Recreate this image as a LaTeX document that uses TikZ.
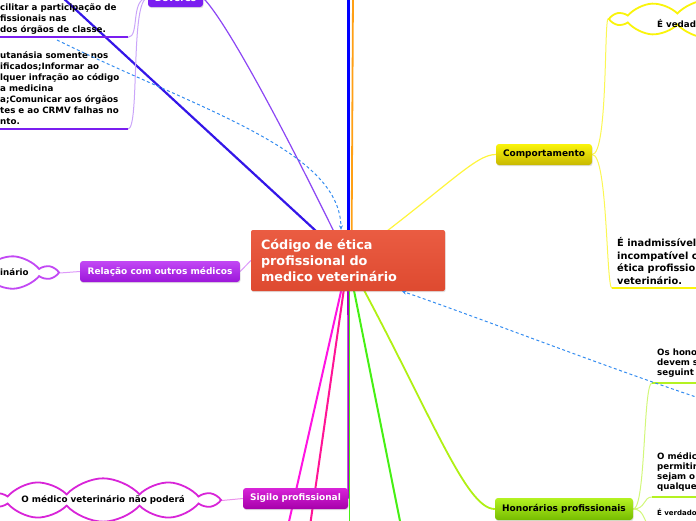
\documentclass[tikz,border=0pt]{standalone}
\usepackage{fontspec}
\setmainfont{DejaVu Sans}
\usepackage{xcolor}
\usetikzlibrary{arrows.meta, positioning, calc, backgrounds, shapes.symbols, shadows}

\definecolor{codered}{RGB}{234,92,66}
\definecolor{codereddark}{RGB}{222,74,48}
\definecolor{relviolet}{RGB}{194,72,244}
\definecolor{relvioletdark}{RGB}{156,22,218}
\definecolor{sigmagenta}{RGB}{216,36,216}
\definecolor{sigmagentadark}{RGB}{166,0,170}
\definecolor{honlime}{RGB}{180,242,34}
\definecolor{honlimedark}{RGB}{118,188,0}
\definecolor{compyellow}{RGB}{250,244,10}
\definecolor{compyellowdark}{RGB}{200,184,0}
\definecolor{devviolet}{RGB}{122,30,240}
\definecolor{relblue}{RGB}{52,140,240}
\definecolor{linkindigo}{RGB}{52,22,232}
\definecolor{linkviolet}{RGB}{140,70,244}
\definecolor{linkyellow}{RGB}{255,245,60}
\definecolor{linklime}{RGB}{176,240,20}
\definecolor{linkmagenta}{RGB}{255,20,225}
\definecolor{linkpink}{RGB}{255,20,150}
\definecolor{linkgreen}{RGB}{70,240,20}
\definecolor{linkpurple}{RGB}{168,0,200}
\definecolor{linkorange}{RGB}{255,160,20}

\begin{document}
\begin{tikzpicture}[
        x=1pt, y=-1pt,
        >=Stealth,
        topic/.style={rectangle, rounded corners=3pt, minimum height=21pt,
            inner xsep=6pt, inner ysep=0pt, text=white,
            font=\bfseries\fontsize{9}{11}\selectfont,
            drop shadow={shadow xshift=0.6pt, shadow yshift=-1.2pt, opacity=0.25}},
        centre/.style={rectangle, rounded corners=2pt, top color=codered,
            bottom color=codereddark, text=white, text width=174pt,
            align=left, minimum width=194pt, minimum height=61pt,
            inner xsep=10pt, inner ysep=0pt,
            font=\bfseries\fontsize{12.8}{16}\selectfont,
            drop shadow={shadow xshift=0.6pt, shadow yshift=-1.2pt, opacity=0.25}},
        cloudbox/.style={cloud, cloud puffs=10, cloud puff arc=95,
            cloud ignores aspect, draw=#1, line width=1.8pt, fill=white,
            inner sep=0pt, font=\bfseries\fontsize{8.8}{10}\selectfont},
        note/.style={inner sep=0pt, align=left, anchor=north west,
            font=\bfseries\fontsize{8.7}{11}\selectfont},
        underline/.style={draw=#1, line width=2pt},
        link/.style={draw=#1, line width=1pt},
        rel/.style={draw=relblue, line width=1pt, dash pattern=on 3pt off 2.5pt,
            -{Stealth[length=4.5pt, width=4pt]}},
    ]
    \useasboundingbox (0,0) rectangle (696,520);

    % 1. Central topic
    \node[centre] (code) at (348,260.5)
        {Código de ética\\profissional do\\medico veterinário};

    % 2. Main topics
    \node[topic, top color=relviolet, bottom color=relvioletdark,
          minimum width=160pt] (relacao) at (160,271.5)
        {Relação com outros médicos};
    \node[topic, top color=sigmagenta, bottom color=sigmagentadark,
          minimum width=105pt] (sigilo) at (295.5,498.5)
        {Sigilo profissional};
    \node[topic, text=black, top color=honlime, bottom color=honlimedark,
          minimum width=138pt, minimum height=22pt] (honor) at (564,509)
        {Honorários profissionais};
    \node[topic, text=black, top color=compyellow, bottom color=compyellowdark,
          minimum width=96pt] (comport) at (544,154.5)
        {Comportamento};
    \node[topic, fill=devviolet, minimum width=55pt, minimum height=18pt]
        (deveres) at (175.5,-2) {Deveres};

    % 3. Clouds
    \node[cloudbox=relviolet, minimum width=200pt, minimum height=40pt,
          left=20pt of relacao, yshift=-1.5pt] (rel_cloud) {};
    \node[note, anchor=west] (rel_cloud_txt) at (0,272.5) {inário};
    \node[cloudbox=sigmagenta, minimum width=226pt, minimum height=42pt,
          left=21pt of sigilo, yshift=-2pt] (sig_cloud)
        {O médico veterinário não poderá};
    \node[cloudbox=compyellow, minimum width=190pt, minimum height=38pt]
        (comp_cloud) at (708,19) {};
    \node[note, anchor=west] (comp_cloud_txt) at (657,24) {É vedad};

    % 4. Notes of Deveres
    \node[note] (dev_note1) at (0,3.2)
        {cilitar a participação de\\fissionais nas\\dos órgãos de classe.};
    \node[note] (dev_note2) at (0,50.9)
        {utanásia somente nos\\ificados;Informar ao\\lquer infração ao código\\%
         a medicina\\a;Comunicar aos órgãos\\tes e ao CRMV falhas no\\nto.};
    \coordinate (dev_u1) at (128,37.3);
    \coordinate (dev_u2) at (128,129);
    \draw[underline=devviolet] (dev_u1) -- ++(-135,0);
    \draw[underline=devviolet] (dev_u2) -- ++(-135,0);

    % 5. Notes of Comportamento
    \node[note, font=\bfseries\fontsize{9.8}{12.5}\selectfont] (comp_note) at (617,237.4)
        {É inadmissível\\incompatível c\\ética profissio\\veterinário.};
    \coordinate (comp_u) at (612,288.3);
    \draw[underline=compyellow] (comp_u) -- ++(90,0);

    % 6. Notes of Honorários
    \node[note, font=\bfseries\fontsize{8.7}{10}\selectfont] (hon_note1) at (657,349)
        {Os hono\\devem s\\seguint};
    \node[note, font=\bfseries\fontsize{8.7}{10}\selectfont] (hon_note2) at (657,452.2)
        {O médic\\permitir\\sejam o\\qualque};
    \node[note, font=\bfseries\fontsize{7}{9}\selectfont] (hon_note3) at (657,508.5)
        {É verdado};
    \coordinate (hon_u1) at (652,383);
    \coordinate (hon_u2) at (652,497);
    \coordinate (hon_u3) at (652,526);
    \draw[underline=honlime] (hon_u1) -- ++(50,0);
    \draw[underline=honlime] (hon_u2) -- ++(50,0);

    % --- Connectors ---
    \coordinate (blue_top) at (348,-5);
    \coordinate (orange_top) at (353,-5);
    \coordinate (blue_diag) at (62,-3);
    \coordinate (mag_end) at (288,526);
    \coordinate (pink_end) at (310,526);
    \coordinate (green_end) at (349.5,526);
    \coordinate (green_b_end) at (401,526);
    \coordinate (dev_rel) at (57,40);
    \coordinate (hon_rel) at (705,400);

    \begin{scope}[on background layer]
        \path[link=blue, line width=3pt] (code.center) -- (blue_top);
        \path[link=linkorange, line width=1.8pt]
            ([xshift=3.5pt]code.center) -- (orange_top);
        \path[link=linkindigo, line width=2.2pt]
            (code.center) -- (blue_diag);
        \path[link=linkviolet, line width=1.2pt]
            (code.center) .. controls (280,120) and (225,20) .. (deveres.east);
        \path[link=linkyellow, line width=1.2pt]
            (code.center) .. controls (450,185) and (475,154.5) .. (comport.west);
        \path[link=linklime, line width=1.8pt]
            (code.center) .. controls (430,410) and (465,509) .. (honor.west);
        \path[link=linkmagenta, line width=2pt]
            (code.center) -- (mag_end);
        \path[link=linkpink, line width=2pt]
            (code.center) -- (pink_end);
        \path[link=linkgreen, line width=2pt]
            (code.center) -- (green_b_end);
        \path[link=linkgreen, line width=1.5pt]
            ([xshift=1.5pt]code.center) -- (green_end);
        \path[link=linkpurple, line width=1.6pt]
            (code.center) -- (sigilo.east);
        \path[link=relviolet!55] (code.west) -- (relacao.east);
        \path[link=relviolet!55] (relacao.west) -- (rel_cloud.east);
        \path[link=sigmagenta!50] (sigilo.west) -- (sig_cloud.east);
        \path[link=devviolet!40] (deveres.west)
            .. controls (130,-2) and (140,37.3) .. (dev_u1);
        \path[link=devviolet!40] (deveres.west)
            .. controls (130,-2) and (140,129) .. (dev_u2);
        \path[link=compyellow!70] (comport.east)
            .. controls (608,154.5) and (604,19) .. (comp_cloud.west);
        \path[link=compyellow!70] (comport.east)
            .. controls (608,154.5) and (606,288.3) .. (comp_u);
        \path[link=honlime!60] (honor.east)
            .. controls (646,509) and (643,383) .. (hon_u1);
        \path[link=honlime!60] (honor.east)
            .. controls (646,509) and (643,497) .. (hon_u2);
        \path[link=honlime!60] (honor.east)
            .. controls (646,509) and (643,526) .. (hon_u3);
    \end{scope}

    \path[rel] (dev_rel) .. controls (200,110) and (340,150)
        .. ([xshift=-7pt]code.north);
    \path[rel] (hon_rel) .. controls (600,365) and (480,318)
        .. ([xshift=54pt]code.south);

\end{tikzpicture}
\end{document}
